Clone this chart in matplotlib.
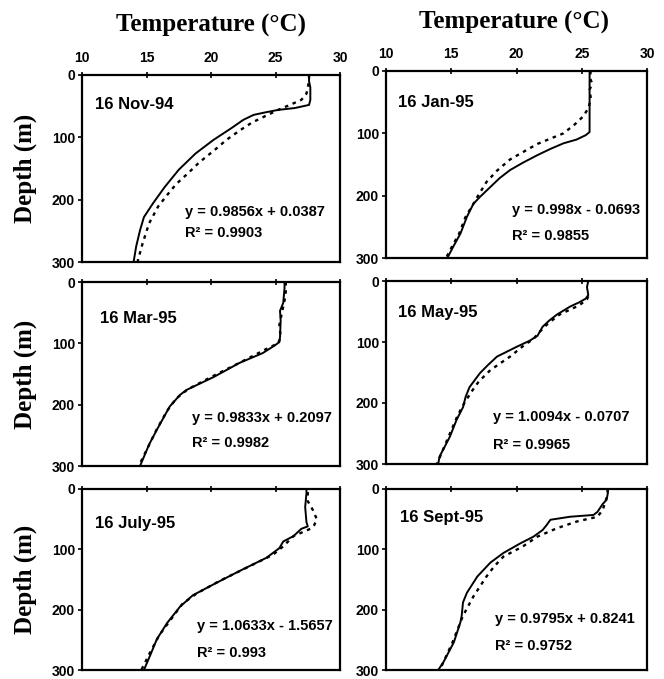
import matplotlib as mpl
mpl.use("Agg")
import matplotlib.pyplot as plt

W, H = 664, 679
SANS = ["Liberation Sans", "DejaVu Sans"]
SERIF = ["Liberation Serif", "DejaVu Serif"]

# ---- data: (depth m, temperature degC), solid = observed, dotted = model ----
nov_d  = [0, 10, 20, 30, 40, 48, 53, 56, 60, 64, 72, 85, 104, 126, 152, 180, 206, 228, 249, 275, 300]
nov_t  = [27.6, 27.6, 27.7, 27.7, 27.7, 27.6, 26.5, 25.2, 24.2, 23.3, 22.5, 21.6, 20.2, 18.8, 17.5, 16.4, 15.5, 14.8, 14.5, 14.2, 14.0]
nov_dd = [0, 10, 20, 30, 40, 49, 56, 64, 76, 88, 104, 120, 140, 158, 175, 190, 211, 238, 270, 300]
nov_tt = [27.6, 27.6, 27.5, 27.4, 27.0, 26.0, 25.2, 24.4, 23.2, 22.3, 21.2, 20.3, 19.1, 18.2, 17.3, 16.7, 15.9, 15.2, 14.7, 14.3]

jan_d  = [0, 20, 40, 60, 80, 98, 103, 110, 116, 125, 135, 147, 159, 172, 186, 202, 213, 234, 261, 280, 300]
jan_t  = [25.6, 25.6, 25.6, 25.6, 25.6, 25.6, 25.3, 24.6, 23.6, 22.6, 21.6, 20.5, 19.5, 18.7, 18.0, 17.2, 16.7, 16.2, 15.7, 15.2, 14.7]
jan_dd = [0, 10, 20, 30, 45, 60, 73, 85, 100, 117, 130, 142, 160, 178, 202, 213, 234, 261, 280, 300]
jan_tt = [25.7, 25.6, 25.8, 25.6, 25.7, 25.5, 25.1, 24.5, 23.6, 21.6, 20.5, 19.5, 18.5, 17.7, 17.0, 16.7, 16.1, 15.6, 15.1, 14.6]

mar_d  = [0, 10, 34, 47, 63, 90, 98, 104, 116, 132, 155, 176, 184, 203, 222, 241, 265, 290, 300]
mar_t  = [25.7, 25.7, 25.6, 25.35, 25.4, 25.35, 25.3, 24.9, 24.0, 22.2, 20.2, 18.1, 17.6, 16.8, 16.3, 15.8, 15.2, 14.7, 14.5]
mar_dd = [0, 15, 30, 50, 70, 90, 100, 108, 120, 135, 155, 175, 190, 210, 240, 270, 300]
mar_tt = [25.8, 25.8, 25.7, 25.5, 25.3, 25.4, 25.2, 24.4, 23.3, 21.9, 20.0, 18.2, 17.3, 16.6, 15.8, 15.1, 14.4]

may_d  = [0, 10, 23, 29, 35, 42, 55, 65, 75, 90, 98, 108, 124, 138, 151, 174, 190, 207, 228, 255, 288, 300]
may_t  = [25.5, 25.4, 25.5, 25.3, 24.8, 24.1, 23.1, 22.5, 22.0, 21.6, 21.0, 20.0, 18.5, 17.8, 17.2, 16.4, 16.1, 15.9, 15.4, 14.9, 14.1, 14.0]
may_dd = [25, 30, 40, 55, 70, 85, 95, 105, 124, 146, 165, 180, 200, 220, 250, 280, 300]
may_tt = [25.5, 25.4, 24.8, 23.3, 22.4, 21.7, 21.3, 20.6, 19.5, 18.0, 17.1, 16.6, 16.0, 15.5, 14.9, 14.3, 13.9]

jul_d  = [0, 7, 30, 55, 62, 66, 72, 78, 87, 98, 114, 136, 158, 176, 195, 222, 249, 275, 300]
jul_t  = [27.4, 27.4, 27.3, 27.4, 27.5, 27.0, 26.7, 26.4, 25.6, 25.3, 24.3, 22.2, 20.2, 18.6, 17.6, 16.6, 15.8, 15.3, 14.8]
jul_dd = [5, 20, 35, 50, 60, 66, 78, 95, 109, 130, 152, 173, 190, 210, 242, 270, 300]
jul_tt = [27.5, 27.5, 27.9, 28.2, 28.0, 27.7, 26.4, 25.6, 24.8, 22.8, 20.7, 18.9, 17.8, 17.1, 16.0, 15.3, 14.6]

sep_d  = [0, 7, 18, 25, 38, 43, 46, 51, 60, 68, 79, 90, 106, 122, 145, 172, 188, 210, 221, 254, 287, 300]
sep_t  = [27.0, 27.0, 26.9, 26.6, 26.2, 25.9, 24.1, 22.6, 22.3, 22.0, 21.3, 20.3, 19.0, 18.0, 17.0, 16.2, 15.9, 15.8, 15.7, 15.2, 14.4, 14.0]
sep_dd = [0, 15, 35, 46, 54, 65, 79, 95, 112, 128, 145, 178, 210, 254, 287, 300]
sep_tt = [27.0, 26.9, 26.6, 26.2, 24.6, 23.1, 21.6, 20.5, 19.0, 18.3, 17.7, 16.7, 15.9, 15.1, 14.4, 14.1]

labels = ["16 Nov-94", "16 Jan-95", "16 Mar-95", "16 May-95", "16 July-95", "16 Sept-95"]
eqs = ["y = 0.9856x + 0.0387", "y = 0.998x - 0.0693", "y = 0.9833x + 0.2097",
       "y = 1.0094x - 0.0707", "y = 1.0633x - 1.5657", "y = 0.9795x + 0.8241"]
r2s = ["R² = 0.9903", "R² = 0.9855", "R² = 0.9982", "R² = 0.9965", "R² = 0.993", "R² = 0.9752"]

profiles = [(nov_d, nov_t, nov_dd, nov_tt), (jan_d, jan_t, jan_dd, jan_tt),
            (mar_d, mar_t, mar_dd, mar_tt), (may_d, may_t, may_dd, may_tt),
            (jul_d, jul_t, jul_dd, jul_tt), (sep_d, sep_t, sep_dd, sep_tt)]

# axes boxes in pixels: (left, top, right, bottom)
boxes = [(82, 75, 340, 262), (386, 71, 647, 258),
         (82, 282, 340, 466), (386, 281, 647, 464),
         (82, 489, 340, 670), (386, 489, 647, 670)]
label_pos = [(11.0, 48), (10.9, 50), (11.4, 59), (10.9, 51), (11.0, 58), (11.1, 48)]
eq_pos = [(18.0, 220, 254), (19.65, 223, 264), (18.5, 222, 263),
          (18.2, 223, 269), (18.9, 227, 271), (18.35, 216, 260)]

fig = plt.figure(figsize=(W / 100, H / 100), dpi=100)
for i, (box, prof) in enumerate(zip(boxes, profiles)):
    l, t, r, b = box
    ax = fig.add_axes([l / W, 1 - b / H, (r - l) / W, (b - t) / H])
    d, tmp, dd, tt = prof
    ax.plot(tmp, d, color="black", lw=1.4)
    ax.plot(tt, dd, color="black", lw=1.7, ls=(0, (1.5, 2.0)))
    ax.set_xlim(10, 30); ax.set_ylim(300, 0)
    ax.set_xticks([10, 15, 20, 25, 30]); ax.set_yticks([0, 100, 200, 300])
    ax.xaxis.tick_top()
    ax.tick_params(axis="x", direction="inout", length=4, width=1.2, pad=5,
                   labeltop=(i < 2), labelsize=10)
    ax.tick_params(axis="y", direction="out", length=3, width=1.2, pad=2, labelsize=10)
    for lab in ax.get_xticklabels() + ax.get_yticklabels():
        lab.set_fontweight("bold"); lab.set_family(SANS)
    for s in ax.spines.values():
        s.set_linewidth(1.6)
    lx, ly = label_pos[i]
    ax.text(lx, ly, labels[i], fontsize=12, fontweight="bold", family=SANS,
            va="center", ha="left")
    ex, ey, ry = eq_pos[i]
    ax.text(ex, ey, eqs[i], fontsize=10.5, fontweight="bold", family=SANS,
            va="center", ha="left")
    ax.text(ex, ry, r2s[i], fontsize=10.5, fontweight="bold", family=SANS,
            va="center", ha="left")
    if i % 2 == 0:
        fig.text(25 / W, 1 - (t + b) / 2 / H, "Depth (m)", rotation=90, fontsize=18,
                 fontweight="bold", family=SERIF, ha="center", va="center")

fig.text(211 / W, 1 - 25 / H, "Temperature (°C)", fontsize=18, fontweight="bold",
         family=SERIF, ha="center", va="center")
fig.text(514 / W, 1 - 22 / H, "Temperature (°C)", fontsize=18, fontweight="bold",
         family=SERIF, ha="center", va="center")

fig.savefig("out.png", dpi=100)
